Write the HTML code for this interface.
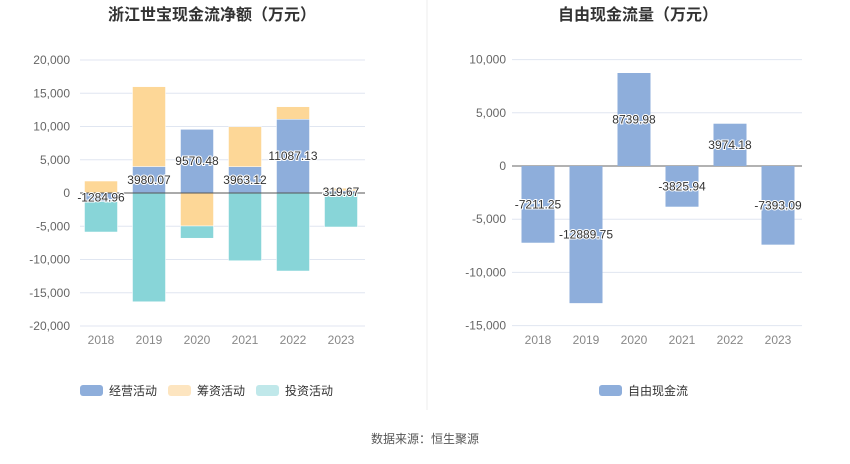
<!DOCTYPE html>
<html><head><meta charset="utf-8"><style>
body{margin:0;background:#fff;width:850px;height:459px;overflow:hidden;font-family:"Liberation Sans","Noto Sans CJK SC",sans-serif}
</style></head><body>
<svg id="c" width="850" height="459" xmlns="http://www.w3.org/2000/svg" font-family="Liberation Sans, Noto Sans CJK SC, sans-serif">
<text x="212" y="20" text-anchor="middle" font-size="16" font-weight="bold" fill="#333">浙江世宝现金流净额（万元）</text>
<text x="638" y="20" text-anchor="middle" font-size="16" font-weight="bold" fill="#333">自由现金流量（万元）</text>
<line x1="427" y1="0" x2="427" y2="410" stroke="#eee"/>
<g id="L"></g><g id="R"></g>
<g>
<rect x="80" y="385" width="23" height="11" rx="3" fill="#8eaedb"/>
<text x="109" y="395" font-size="12" fill="#333">经营活动</text>
<rect x="168" y="385" width="23" height="11" rx="3" fill="#fde5c0"/>
<text x="197" y="395" font-size="12" fill="#333">筹资活动</text>
<rect x="256" y="385" width="23" height="11" rx="3" fill="#c0e8ea"/>
<text x="285" y="395" font-size="12" fill="#333">投资活动</text>
</g>
<g>
<rect x="599" y="385" width="23" height="11" rx="3" fill="#8eaedb"/>
<text x="628" y="395" font-size="12" fill="#333">自由现金流</text>
</g>
<text x="425" y="443" text-anchor="middle" font-size="12" fill="#555">数据来源：恒生聚源</text>
</svg>
<script>
const years=["2018","2019","2020","2021","2022","2023"];
const operating=[-1284.96,3980.07,9570.48,3963.12,11087.13,319.67];
const financing=[1800,12010,-4960,6010,1890,400];
const investing=[-4580,-16350,-1840,-10180,-11730,-5110];
const leftTicks=[20000,15000,10000,5000,0,-5000,-10000,-15000,-20000];
const fcf=[-7211.25,-12889.75,8739.98,-3825.94,3974.18,-7393.09];
const rightTicks=[10000,5000,0,-5000,-10000,-15000];
const NS="http://www.w3.org/2000/svg";
function mk(p,t,a){const e=document.createElementNS(NS,t);for(const k in a)e.setAttribute(k,a[k]);p.appendChild(e);return e;}
const fmt=v=>v.toLocaleString('en-US');
const L=document.getElementById('L');
const ly=v=>193-v*(133/20000);
const lx=i=>101+i*48;
leftTicks.forEach(t=>{
 const g=mk(L,'line',{x1:80,x2:365,y1:ly(t),y2:ly(t),stroke:t===0?'#666':'#e0e6f1'});
 
 
 const tx=mk(L,'text',{x:70,y:ly(t)+4,'text-anchor':'end','font-size':12,fill:'#666'});tx.textContent=fmt(t);
 
 
});
const series=[[operating,'#8eaedb','bar-operating'],[financing,'#fdd797','bar-financing'],[investing,'#88d5d8','bar-investing']];
const labels=[];
years.forEach((y,i)=>{
 let pos=0,neg=0;
 series.forEach(([arr,col,nm])=>{
  const v=arr[i];let a,b;
  if(v>=0){a=pos;b=pos+v;pos=b;}else{a=neg;b=neg+v;neg=b;}
  const r=mk(L,'rect',{x:lx(i)-16.5,width:33,y:Math.min(ly(a),ly(b)),height:Math.abs(ly(a)-ly(b)),fill:col,stroke:'#fff','stroke-width':0.5});
  
  
 });
 const xt=mk(L,'text',{x:lx(i),y:344,'text-anchor':'middle','font-size':12,fill:'#888'});xt.textContent=y;
 
 
});
const zl=mk(L,'line',{x1:80,x2:365,y1:ly(0),y2:ly(0),stroke:'#555'});


years.forEach((y,i)=>{
 const t=mk(L,'text',{x:lx(i),y:(ly(0)+ly(operating[i]))/2+4,'text-anchor':'middle','font-size':12,fill:'#333',stroke:'#fff','stroke-width':2,'paint-order':'stroke'});
 t.textContent=operating[i].toFixed(2);
 
 
});
const R=document.getElementById('R');
const ry=v=>166-v*(53.2/5000);
const rx=i=>538+i*48;
rightTicks.forEach(t=>{
 const g=mk(R,'line',{x1:512,x2:802,y1:ry(t),y2:ry(t),stroke:t===0?'#666':'#e0e6f1'});
 
 
 const tx=mk(R,'text',{x:506,y:ry(t)+4,'text-anchor':'end','font-size':12,fill:'#666'});tx.textContent=fmt(t);
 
 
});
years.forEach((y,i)=>{
 const v=fcf[i];
 const r=mk(R,'rect',{x:rx(i)-16.5,width:33,y:Math.min(ry(0),ry(v)),height:Math.abs(ry(v)-ry(0)),fill:'#8eaedb'});
 
 
 const t=mk(R,'text',{x:rx(i),y:(ry(0)+ry(v))/2+4,'text-anchor':'middle','font-size':12,fill:'#333',stroke:'#fff','stroke-width':2,'paint-order':'stroke'});
 t.textContent=v.toFixed(2);
 
 
 const xt=mk(R,'text',{x:rx(i),y:344,'text-anchor':'middle','font-size':12,fill:'#888'});xt.textContent=y;
 
 
});
</script>
</body></html>
